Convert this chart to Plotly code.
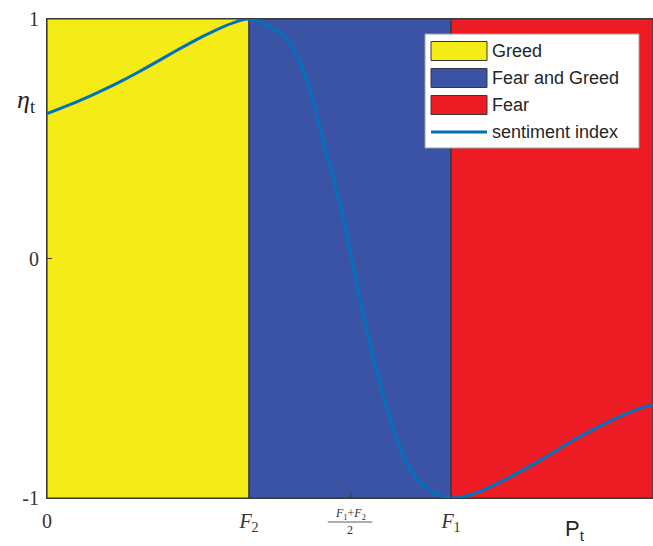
import plotly.graph_objects as go

# Price regimes along P_t (0 .. F2 .. F1 .. end) and their colours
region_names = ["Greed", "Fear and Greed", "Fear"]
region_bounds = [0.0, 1.0, 2.0, 3.0]
region_colors = ["#F5EB17", "#3A53A4", "#ED1C24"]

# Sentiment index eta_t sampled along the price axis
price = [0.0, 0.129, 0.213, 0.297, 0.380, 0.460, 0.545, 0.624, 0.708,
         0.792, 0.921, 1.0, 1.119, 1.203, 1.287, 1.366, 1.450, 1.5,
         1.564, 1.649, 1.733, 1.812, 1.896, 1.980, 2.0, 2.104, 2.277,
         2.441, 2.604, 2.772, 2.936, 3.0]
eta = [0.605, 0.648, 0.678, 0.711, 0.746, 0.782, 0.822, 0.860, 0.899,
       0.936, 0.984, 1.0, 0.960, 0.898, 0.743, 0.493, 0.230, 0.033,
       -0.230, -0.522, -0.760, -0.898, -0.969, -0.998, -1.0, -0.985, -0.919,
       -0.843, -0.760, -0.685, -0.626, -0.610]

# Axis ticks
x_tickvals = [0, 1, 1.5, 2]
x_ticktext = ["0", "<i>F</i><sub>2</sub>", "", "<i>F</i><sub>1</sub>"]
y_tickvals = [-1, 0, 1]
y_ticktext = ["-1", "0", "1"]

W, H = 653, 546
ML, MR, MT, MB = 47, 0, 19, 48
line_color = "#0072BD"
edge = "#383838"
serif = "Liberation Serif, DejaVu Serif, serif"
sans = "Liberation Sans, Arial, sans-serif"

fig = go.Figure()

# shaded regimes
for name, x0, x1, col in zip(region_names, region_bounds[:-1], region_bounds[1:], region_colors):
    fig.add_trace(go.Scatter(
        x=[x0, x1, x1, x0, x0], y=[-1, -1, 1, 1, -1],
        fill="toself", fillcolor=col, mode="lines",
        line=dict(color=edge, width=1.2), name=name,
        showlegend=False, hoverinfo="skip"))

# sentiment curve
fig.add_trace(go.Scatter(
    x=price, y=eta, mode="lines", name="sentiment index",
    line=dict(color=line_color, width=3, shape="spline", smoothing=1.0),
    showlegend=False, cliponaxis=False))

# plot-area pixel -> paper coordinates
pw = W - ML - MR
ph = H - MT - MB
def px(xp):
    return (xp - ML) / pw
def py(yp):
    return (H - MB - yp) / ph

shapes = []
annotations = []

# legend box
shapes.append(dict(type="rect", xref="paper", yref="paper",
                   x0=px(425), x1=px(639), y0=py(148), y1=py(34),
                   fillcolor="white", line=dict(color="#A0A0A0", width=1), layer="above"))
legend_rows = [51, 78, 105, 132]
for i, (name, col) in enumerate(zip(region_names, region_colors)):
    yc = legend_rows[i]
    shapes.append(dict(type="rect", xref="paper", yref="paper",
                       x0=px(431), x1=px(487), y0=py(yc + 9.5), y1=py(yc - 9.5),
                       fillcolor=col, line=dict(color=edge, width=1), layer="above"))
    annotations.append(dict(xref="paper", yref="paper", x=px(490), y=py(yc),
                            text=name, showarrow=False, xanchor="left", yanchor="middle",
                            font=dict(family=sans, size=18, color="#262626")))
shapes.append(dict(type="line", xref="paper", yref="paper",
                   x0=px(431), x1=px(487), y0=py(legend_rows[3]), y1=py(legend_rows[3]),
                   line=dict(color=line_color, width=3), layer="above"))
annotations.append(dict(xref="paper", yref="paper", x=px(490), y=py(legend_rows[3]),
                        text="sentiment index", showarrow=False, xanchor="left", yanchor="middle",
                        font=dict(family=sans, size=18, color="#262626")))

# fraction label (F1+F2)/2 under its tick
annotations.append(dict(xref="x", yref="paper", x=1.5, y=py(514),
                        text="<i>F</i><sub>1</sub>+<i>F</i><sub>2</sub>", showarrow=False,
                        xanchor="center", yanchor="middle",
                        font=dict(family=serif, size=12, color="#333")))
shapes.append(dict(type="line", xref="x", yref="paper", x0=1.5 - 0.11, x1=1.5 + 0.11,
                   y0=py(522), y1=py(522), line=dict(color="#333", width=0.8)))
annotations.append(dict(xref="x", yref="paper", x=1.5, y=py(530),
                        text="2", showarrow=False, xanchor="center", yanchor="middle",
                        font=dict(family=serif, size=12, color="#333")))

# axis titles
annotations.append(dict(xref="paper", yref="paper", x=px(26), y=py(101),
                        text="<i>η</i><sub>t</sub>", showarrow=False,
                        xanchor="center", yanchor="middle",
                        font=dict(family=serif, size=26, color="#262626")))
annotations.append(dict(xref="paper", yref="paper", x=px(575), y=py(530),
                        text="P<sub>t</sub>", showarrow=False,
                        xanchor="center", yanchor="middle",
                        font=dict(family=sans, size=22, color="#262626")))

fig.update_layout(
    width=W, height=H,
    margin=dict(l=ML, r=MR, t=MT, b=MB),
    paper_bgcolor="white", plot_bgcolor="white",
    shapes=shapes, annotations=annotations,
    showlegend=False,
    xaxis=dict(range=[0, 3], tickvals=x_tickvals, ticktext=x_ticktext,
               ticks="inside", ticklen=5, tickcolor=edge,
               showline=True, linecolor=edge, linewidth=1.2, mirror=True,
               showgrid=False, zeroline=False, fixedrange=True,
               ticklabelstandoff=5,
               tickfont=dict(family=serif, size=20, color="#333")),
    yaxis=dict(range=[-1, 1], tickvals=y_tickvals, ticktext=y_ticktext,
               ticks="inside", ticklen=5, tickcolor=edge,
               showline=True, linecolor=edge, linewidth=1.2,
               showgrid=False, zeroline=False, fixedrange=True,
               ticklabelstandoff=3,
               tickfont=dict(family=serif, size=20, color="#333")),
)

fig.write_html("out.html")
